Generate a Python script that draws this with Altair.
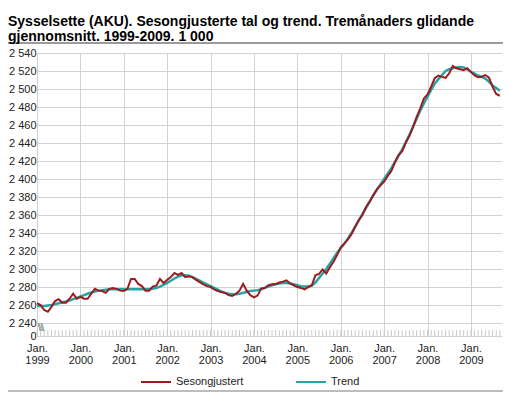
import altair as alt
import pandas as pd

# ---------------- data ----------------
start_year = 1999
series_names = ["Sesongjustert", "Trend"]
series_colors = ["#9b1c20", "#27a3a3"]

sesongjustert = [
    2262, 2260, 2254.5, 2252.5, 2258, 2264.5, 2266.5, 2262.5, 2262.5, 2267, 2272.5, 2267,
    2269, 2267, 2267, 2272.5, 2278, 2276, 2275.5, 2273.5, 2278, 2279, 2278, 2276,
    2275.5, 2278, 2289, 2289, 2283.5, 2281, 2276, 2276, 2280.5, 2281.5, 2289, 2284.5,
    2288, 2291, 2295.5, 2293.5, 2295.5, 2291, 2292, 2291, 2288, 2285.5, 2283, 2281,
    2280, 2277.5, 2275.5, 2274.5, 2273.5, 2271, 2270, 2272.5, 2276, 2283.5, 2276, 2271,
    2268.5, 2270.5, 2278.5, 2279, 2282, 2283, 2283.3, 2285, 2286, 2287.5, 2284, 2282,
    2280, 2279, 2277.5, 2280, 2282, 2293, 2294.5, 2299.5, 2295, 2302, 2308, 2315.5,
    2324, 2328.5, 2333, 2339, 2347, 2354.5, 2360, 2369, 2375, 2382, 2388.5, 2393,
    2397, 2403.5, 2409, 2418.5, 2426.5, 2431, 2440.5, 2448, 2458, 2469, 2478.5, 2489.5,
    2494, 2502.5, 2512, 2515, 2513.5, 2512.5, 2517.5, 2525.5, 2523, 2522, 2521, 2523,
    2519, 2515, 2513, 2513.5, 2515.5, 2512.5, 2502.5, 2494.5, 2492.5,
]

trend = [
    2259, 2259, 2259, 2259.5, 2260, 2261, 2262, 2263, 2264, 2265, 2266.5, 2268,
    2269.5, 2271, 2272.5, 2274, 2275, 2276, 2276.5, 2277, 2277.5, 2277.5, 2277.5, 2277.5,
    2277.5, 2277.5, 2277.5, 2277.5, 2277.5, 2277.5, 2277.5, 2277.5, 2278, 2279, 2280.5, 2282.5,
    2284.5, 2287, 2289.5, 2291.5, 2293, 2293, 2292.5, 2291, 2289, 2287, 2285, 2283,
    2281, 2279, 2277, 2275, 2273.5, 2272.5, 2272, 2272, 2272.5, 2273.5, 2274.5, 2275.5,
    2276, 2276.5, 2277.5, 2279, 2280.5, 2282, 2283, 2284, 2284.5, 2284.5, 2284, 2283,
    2282, 2281, 2280.5, 2280.5, 2281.5, 2285, 2290, 2295, 2300, 2306, 2312, 2318,
    2323, 2328, 2334, 2340, 2347, 2354, 2361, 2368, 2375, 2382, 2388, 2394,
    2400, 2406, 2412, 2419, 2426, 2433, 2441, 2449, 2458, 2467, 2476, 2484,
    2491.5, 2499, 2506, 2511, 2515.5, 2520, 2522, 2523, 2524, 2524.5, 2524, 2522,
    2519, 2517, 2515, 2513.5, 2511.5, 2508, 2504, 2501, 2498,
]

y_ticks = [2240, 2260, 2280, 2300, 2320, 2340, 2360, 2380, 2400, 2420,
           2440, 2460, 2480, 2500, 2520, 2540]
x_tick_years = list(range(1999, 2010))
title_lines = [
    "Sysselsette (AKU). Sesongjusterte tal og trend. Tremånaders glidande",
    "gjennomsnitt. 1999-2009. 1 000",
]

# ---------------- layout ----------------
W, H = 465, 283
Y_MIN, Y_MAX = 2225.6, 2540
X_MAX = 128.6
GRID = "#d2d2d2"
FONT = "Liberation Sans"

n = len(sesongjustert)
df = pd.DataFrame({"m": list(range(n)), series_names[0]: sesongjustert, series_names[1]: trend})
long = df.melt("m", var_name="serie", value_name="v")
ticks_df = pd.DataFrame({"m": list(range(n))})

x_scale = alt.Scale(domain=[0, X_MAX], nice=False, zero=False)
y_scale = alt.Scale(domain=[Y_MIN, Y_MAX], nice=False, zero=False)

x_axis = alt.Axis(
    values=[(yr - start_year) * 12 for yr in x_tick_years],
    labelExpr=f'["Jan.", toString({start_year} + datum.value / 12)]',
    grid=True, gridColor=GRID, ticks=False, domain=False,
    labelFontSize=11, labelPadding=6, labelBaseline="top", labelLineHeight=12.5,
    labelFlush=False, labelOverlap=False, labelColor="#222", labelFont=FONT, title=None,
)
y_axis = alt.Axis(
    values=[Y_MIN] + y_ticks,
    labelExpr="datum.value < 2230 ? '0' : replace(format(datum.value, ','), ',', ' ')",
    grid=True, gridColor=GRID, ticks=False, domain=False,
    labelFontSize=11, labelPadding=1, labelOverlap=False, labelColor="#222",
    labelFont=FONT, title=None,
)

color = alt.Color(
    "serie:N",
    scale=alt.Scale(domain=series_names, range=series_colors),
    legend=alt.Legend(
        orient="none", legendX=103, legendY=313, direction="horizontal",
        title=None, symbolType="stroke", symbolSize=900, symbolStrokeWidth=2,
        labelFontSize=11, labelFont=FONT, labelColor="#222",
        columnPadding=48, labelOffset=4, padding=0,
    ),
)

month_ticks = alt.Chart(ticks_df).mark_rule(color="#c8c8c8", strokeWidth=1).encode(
    x=alt.X("m:Q", scale=x_scale, axis=x_axis),
    y=alt.value(H),
    y2=alt.value(H - 6),
)

base = alt.Chart(long).encode(
    x=alt.X("m:Q", scale=x_scale, axis=x_axis),
    y=alt.Y("v:Q", scale=y_scale, axis=y_axis),
    color=color,
)
trend_line = base.transform_filter(alt.datum.serie == series_names[1]).mark_line(strokeWidth=2.5)
sesong_line = base.transform_filter(alt.datum.serie == series_names[0]).mark_line(strokeWidth=2)

top_rule = alt.Chart(ticks_df).mark_rule(color="#9a9a9a", strokeWidth=1).encode(
    x=alt.value(-29), x2=alt.value(W + 1), y=alt.value(-10)
)
bottom_rule = alt.Chart(ticks_df).mark_rule(color="#bdbdbd", strokeWidth=2).encode(
    x=alt.value(-29), x2=alt.value(W + 1), y=alt.value(H + 55)
)
brk = alt.Chart(ticks_df).mark_text(
    text="\\\\", color="#aaaaaa", fontSize=10, font=FONT
).encode(x=alt.value(4), y=alt.value(H - 8))

chart = alt.layer(month_ticks, trend_line, sesong_line, top_rule, bottom_rule, brk).properties(
    width=W,
    height=H,
    title=alt.TitleParams(
        text=title_lines, anchor="start", frame="group", fontSize=14,
        fontWeight="bold", font=FONT, color="#000", dx=-29, dy=1, offset=0,
        lineHeight=15,
    ),
    autosize=alt.AutoSizeParams(type="none"),
    padding={"left": 29, "top": 45, "right": 1, "bottom": 60},
).configure_view(stroke=None)

chart.save("out.html", embed_options={"renderer": "svg", "actions": False})
